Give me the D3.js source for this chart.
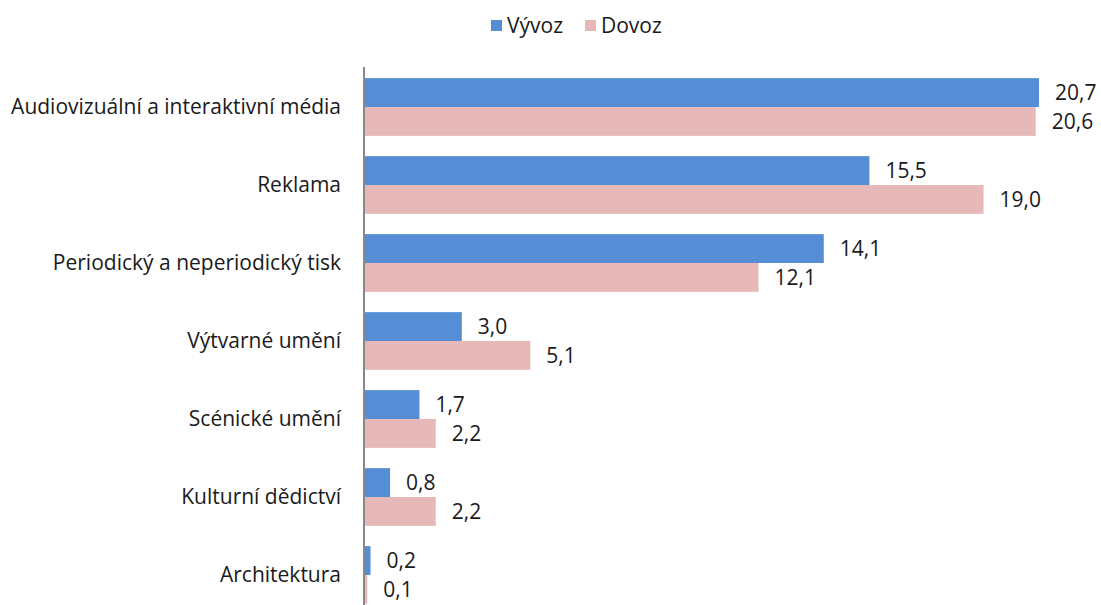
<!DOCTYPE html>
<html><head><meta charset="utf-8">
<script src="https://cdn.jsdelivr.net/npm/d3@7"></script>
<style>body{margin:0;background:#fff}svg{display:block}text{font-family:"Open Sans",sans-serif;fill:#1a1a1a}</style>
</head><body><svg id="c" width="1101" height="605"></svg>
<script>
const categories = ["Audiovizuální a interaktivní média","Reklama","Periodický a neperiodický tisk","Výtvarné umění","Scénické umění","Kulturní dědictví","Architektura"];
const vyvoz = [20.7, 15.5, 14.1, 3.0, 1.7, 0.8, 0.2];
const dovoz = [20.6, 19.0, 12.1, 5.1, 2.2, 2.2, 0.1];
const seriesNames = ["Vývoz","Dovoz"];
const colors = ["#558ED5","#E6B9B8"];

const svg = d3.select("#c");
const x0 = 364;
const x = d3.scaleLinear().domain([0, 20.7]).range([x0, 1039]);
const y = d3.scaleBand().domain(categories).range([68, 614]).paddingInner(0.26).paddingOuter(0.13);
const ySub = d3.scaleBand().domain(seriesNames).range([0, y.bandwidth()]);
const fmt = v => v.toFixed(1).replace(".", ",");

// fit font size so the longest label matches the reference width
const probe = svg.append("text").attr("font-size",20).text(categories[0]);
const fs = 20 * 330 / probe.node().getComputedTextLength();
probe.remove();

const data = categories.map((c,i)=>({c, vals:[vyvoz[i], dovoz[i]]}));
const g = svg.append("g");
data.forEach(d=>{
  d.vals.forEach((v,j)=>{
    const yy = y(d.c) + ySub(seriesNames[j]);
    g.append("rect").attr("x", x(0)).attr("y", yy).attr("width", x(v)-x(0)).attr("height", ySub.bandwidth()).attr("fill", colors[j]);
    g.append("text").attr("x", x(v)+16).attr("y", yy + ySub.bandwidth()/2).attr("dy","0.35em").attr("font-size",fs).text(fmt(v));
  });
  g.append("text").attr("x", 341).attr("y", y(d.c)+y.bandwidth()/2).attr("dy","0.35em").attr("text-anchor","end").attr("font-size",fs).text(d.c);
});
svg.append("line").attr("x1",x0).attr("x2",x0).attr("y1",67).attr("y2",605).attr("stroke","#888").attr("stroke-width",2);

// legend
const leg = svg.append("g");
const legX = [491, 585];
seriesNames.forEach((s,j)=>{
  leg.append("rect").attr("x", legX[j]).attr("y", 20).attr("width",11).attr("height",11).attr("fill",colors[j]);
  leg.append("text").attr("x", legX[j]+16).attr("y", 26).attr("dy","0.35em").attr("font-size",fs).text(s);
});
</script></body></html>
